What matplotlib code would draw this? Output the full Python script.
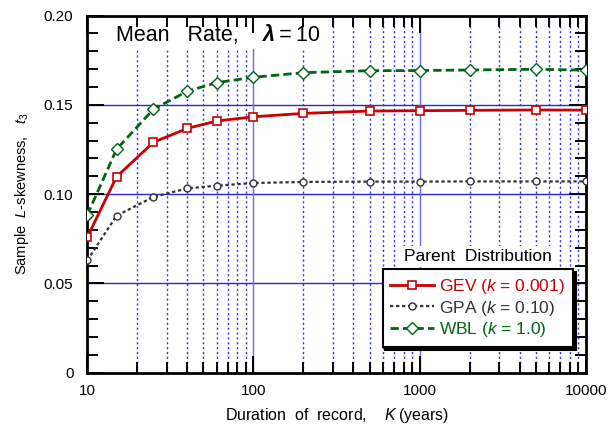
import numpy as np
import matplotlib
matplotlib.use('Agg')
import matplotlib.pyplot as plt
from matplotlib.patches import Rectangle
from matplotlib.ticker import LogLocator, MultipleLocator, FixedLocator, FixedFormatter

plt.rcParams['font.family'] = ['Liberation Sans', 'DejaVu Sans']
plt.rcParams['mathtext.fontset'] = 'custom'
plt.rcParams['mathtext.rm'] = 'Liberation Sans'
plt.rcParams['mathtext.it'] = 'Liberation Sans:italic'
plt.rcParams['mathtext.bf'] = 'Liberation Sans:bold'

# record durations K (years) and mean sample L-skewness
durations = [10, 15, 25, 40, 60, 100, 200, 500, 1000, 2000, 5000, 10000]
t3_gev = [0.0758, 0.1097, 0.1290, 0.1368, 0.1409, 0.1433, 0.1452, 0.1465, 0.1467, 0.1469, 0.1471, 0.1470]
t3_gpa = [0.0629, 0.0879, 0.0984, 0.1032, 0.1047, 0.1062, 0.1068, 0.1070, 0.1070, 0.1071, 0.1071, 0.1071]
t3_wbl = [0.0883, 0.1251, 0.1475, 0.1576, 0.1624, 0.1654, 0.1680, 0.1691, 0.1692, 0.1695, 0.1699, 0.1694]

labels = [r'GEV ($k$ = 0.001)', r'GPA ($k$ = 0.10)', r'WBL ($k$ = 1.0)']
x_ticks = [10, 100, 1000, 10000]
y_ticks = [0, 0.05, 0.10, 0.15, 0.20]
y_ticklabels = ['0', '0.05', '0.10', '0.15', '0.20']

fig = plt.figure(figsize=(6.1, 4.32), dpi=100)
ax = fig.add_axes([0.1431, 0.1373, 0.8172, 0.8268])

red = '#cc0000'
grey = '#333333'
green = '#006414'

ax.plot(durations, t3_gev, color=red, lw=2, ls='-', marker='s', ms=5.5,
        mfc='white', mec=red, mew=1.2, label=labels[0], zorder=5)
ax.plot(durations, t3_gpa, color=grey, lw=1.6, ls=(0, (1.5, 1.2)), marker='o', ms=5,
        mfc='white', mec=grey, mew=1.0, label=labels[1], zorder=4)
ax.plot(durations, t3_wbl, color=green, lw=2, ls=(0, (3, 1.5)), marker='D', ms=6.5,
        mfc='white', mec=green, mew=1.0, label=labels[2], zorder=4)

ax.set_xscale('log')
ax.set_xlim(10, 10000)
ax.set_ylim(0, 0.20)

ax.xaxis.set_major_locator(FixedLocator(x_ticks))
ax.xaxis.set_major_formatter(FixedFormatter([str(v) for v in x_ticks]))
ax.xaxis.set_minor_locator(LogLocator(base=10, subs=np.arange(2, 10)))
ax.xaxis.set_minor_formatter(plt.NullFormatter())
ax.yaxis.set_major_locator(FixedLocator(y_ticks))
ax.yaxis.set_major_formatter(FixedFormatter(y_ticklabels))
ax.yaxis.set_minor_locator(MultipleLocator(0.01))

ax.tick_params(which='both', direction='in', top=True, right=True, labelsize=11, width=1.4)
ax.tick_params(which='major', length=12)
ax.tick_params(axis='y', which='major', pad=10)
ax.tick_params(axis='x', which='major', pad=8)
ax.tick_params(which='minor', length=8)

# grid lines drawn by hand so the title panel can blank them out
for y in y_ticks[1:-1]:
    ax.axhline(y, color='#2828d0', lw=1.0, zorder=0.5)
for x in x_ticks[1:-1]:
    ax.axvline(x, color='#6a6af0', lw=1.0, zorder=0.5)
for x in ax.xaxis.get_minorticklocs():
    if 10 < x < 10000:
        ax.axvline(x, color='#3030f0', lw=1.0, ls=(0, (1.5, 2)), zorder=0.5)

ax.add_patch(Rectangle((0.0, 0.905), 0.485, 0.095, transform=ax.transAxes,
                       facecolor='white', edgecolor='none', zorder=1))

for s in ax.spines.values():
    s.set_linewidth(2)

ax.set_xlabel('Duration  of  record,    $K$\u2009(years)', fontsize=11.5, labelpad=6)
ax.set_ylabel(r'Sample  $L$-skewness,   $t_3$', fontsize=10.5, labelpad=9)

# panel title, with bold italic lambda
t1 = ax.text(0.058, 0.944, 'Mean   Rate,    ', transform=ax.transAxes,
             fontsize=15.5, va='center', ha='left', zorder=2)
t2 = ax.annotate('λ', xy=(1, 0), xycoords=t1, fontsize=15.5, va='bottom', ha='left',
                 fontweight='bold', style='italic', zorder=2)
ax.annotate('\u2009=\u200910', xy=(1, 0), xycoords=t2, fontsize=15.5, va='bottom',
            ha='left', zorder=2)

leg = ax.legend(loc='lower right', bbox_to_anchor=(0.974, 0.072), borderaxespad=0,
                fontsize=12.5, handlelength=2.5, labelspacing=0.15, handletextpad=0.3,
                borderpad=0.45, fancybox=False, framealpha=1, edgecolor='black',
                shadow={'color': 'black', 'alpha': 1})
leg.get_frame().set_linewidth(1.5)
for txt, c in zip(leg.get_texts(), [red, grey, green]):
    txt.set_color(c)

ax.text(0.784, 0.325, 'Parent  Distribution', transform=ax.transAxes, fontsize=12.5,
        ha='center', va='center', zorder=6,
        bbox=dict(facecolor='white', edgecolor='none', pad=2))

fig.savefig('out.png', dpi=100)
